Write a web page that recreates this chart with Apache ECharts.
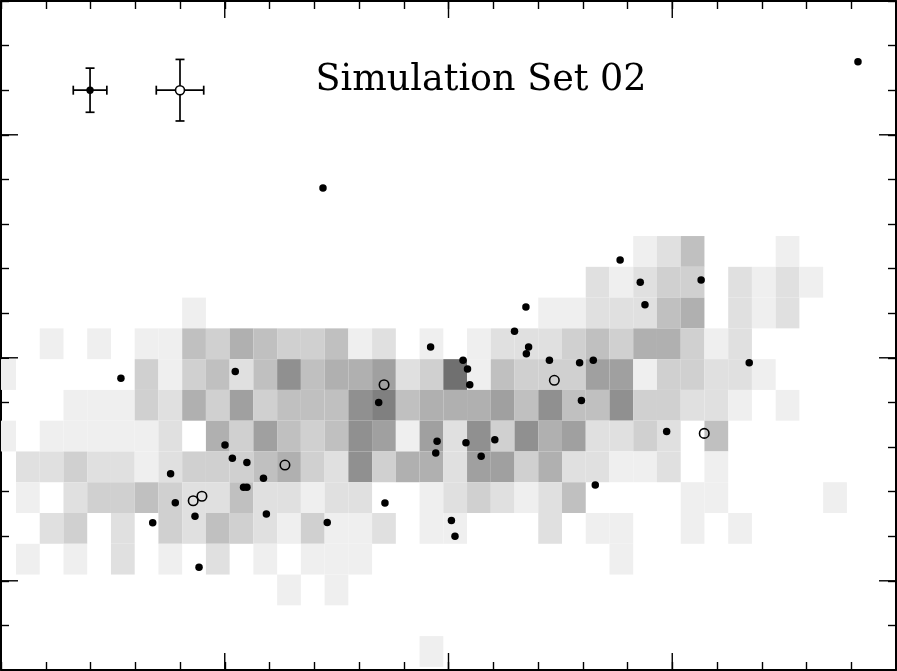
<!DOCTYPE html>
<html><head><meta charset="utf-8">
<script src="https://cdn.jsdelivr.net/npm/echarts@6/dist/echarts.min.js"></script>
<style>html,body{margin:0;padding:0;background:#fff}#c{width:897px;height:671px}#err{position:absolute;left:300px;top:600px;color:red;font:12px sans-serif}</style>
</head><body><div id="c"></div><div id="err"></div>
<script>
window.onerror = function (m) { document.getElementById('err').textContent += ' ' + m; };
// ---------------- DATA ----------------
const titleText = 'Simulation Set 02';
const xMajorTicks = [1, 2, 3];
const yMajorTicks = [0.4, 1.4, 2.4];

// density map: one array per row (top row first), columns from -1 to 34; value = grey level (0 = empty)
const densityRows = [
  [0,0,0,0,0,0,0,0,0,0, 0,0,0,0,0,0,0,0,0,0, 0,0,0,0,0,0,0,1,2,4, 0,0,0,1,0,0],
  [0,0,0,0,0,0,0,0,0,0, 0,0,0,0,0,0,0,0,0,0, 0,0,0,0,0,2,1,2,3,3, 0,2,1,2,1,0],
  [0,0,0,0,0,0,0,0,1,0, 0,0,0,0,0,0,0,0,0,0, 0,0,0,1,1,2,2,2,4,5, 0,2,1,2,0,0],
  [0,0,1,0,1,0,1,1,4,3, 5,4,3,3,4,1,2,0,1,0, 1,2,2,2,3,4,3,5,5,3, 1,2,0,0,0,0],
  [1,0,0,0,0,0,3,1,3,4, 2,4,7,4,5,5,6,2,3,9, 1,4,3,3,3,6,6,1,3,3, 2,2,1,0,0,0],
  [0,0,0,1,1,1,3,2,5,3, 6,3,4,4,4,7,8,4,5,5, 5,6,4,7,4,4,7,3,3,2, 2,1,0,1,0,0],
  [1,0,1,1,1,1,1,2,0,5, 3,6,4,3,4,7,6,1,6,2, 7,3,7,5,6,2,2,3,2,0, 4,0,0,0,0,0],
  [0,2,2,3,2,2,1,2,3,3, 3,4,5,3,2,7,3,5,5,2, 6,6,3,5,2,2,1,1,2,0, 1,0,0,0,0,0],
  [0,1,0,2,3,3,4,3,2,2, 4,2,2,1,2,2,0,0,1,2, 3,2,1,2,4,0,0,0,0,1, 1,0,0,0,0,1],
  [0,0,2,3,0,2,0,3,2,4, 3,2,1,3,1,1,2,0,1,1, 0,0,0,2,0,1,1,0,0,1, 0,1,0,0,0,0],
  [0,1,0,1,0,2,0,1,0,2, 0,1,0,1,1,1,0,0,0,0, 0,0,0,0,0,0,1,0,0,0, 0,0,0,0,0,0],
  [0,0,0,0,0,0,0,0,0,0, 0,0,1,0,1,0,0,0,0,0, 0,0,0,0,0,0,0,0,0,0, 0,0,0,0,0,0],
  [0,0,0,0,0,0,0,0,0,0, 0,0,0,0,0,0,0,0,0,0, 0,0,0,0,0,0,0,0,0,0, 0,0,0,0,0,0],
  [0,0,0,0,0,0,0,0,0,0, 0,0,0,0,0,0,0,0,1,0, 0,0,0,0,0,0,0,0,0,0, 0,0,0,0,0,0]
];
// binning of the density map (data units)
const binX0 = 0.067;      // left edge of column 0
const binW = 0.1061;
const binTop = 1.946;     // top edge of first row
const binH = 0.138;

// filled points
const dotX = [3.830,1.439,2.767,2.857,3.129,2.878,2.346,2.295,1.920,2.358,2.348,2.065,2.085,2.095,2.451,2.586,2.647,2.594,3.344,2.975,
              0.536,1.047,1.688,1.949,1.943,2.078,2.207,2.146,2.656,2.013,2.029,1.001,1.034,1.099,1.173,1.084,1.099,1.186,1.458,1.716,
              0.758,0.779,0.867,0.678,0.885];
const dotY = [2.728,2.161,1.839,1.739,1.749,1.638,1.628,1.519,1.448,1.448,1.418,1.389,1.350,1.279,1.389,1.378,1.389,1.209,1.378,1.069,
              1.308,1.339,1.199,1.026,0.973,1.019,1.033,0.959,0.830,0.670,0.600,1.009,0.949,0.930,0.860,0.820,0.820,0.700,0.661,0.749,
              0.880,0.750,0.689,0.660,0.461];
// open points
const openX = [1.712,2.473,3.143,1.269,0.859,0.898];
const openY = [1.279,1.299,1.061,0.919,0.759,0.779];
// error-bar keys: [x, y, xerr, yerr], first filled, second open
const keyX = [0.398, 0.800];
const keyY = [2.600, 2.600];
const keyXErr = [0.075, 0.106];
const keyYErr = [0.099, 0.138];

// ---------------- STYLE ----------------
const greys = ['#ffffff','#efefef','#e0e0e0','#d0d0d0','#c0c0c0','#b0b0b0','#a0a0a0','#909090','#808080','#707070'];
const X_MIN = 0, X_MAX = 4, Y_MIN = 0, Y_MAX = 3;

const cellData = [];
densityRows.forEach((row, r) => row.forEach((lvl, i) => { if (lvl > 0) cellData.push([i - 1, r, lvl]); }));

const chart = echarts.init(document.getElementById('c'), null, {renderer: 'canvas'});

function baseAxis(pos, min, max) {
  return {
    type: 'value', position: pos, min: min, max: max, interval: 0.2,
    axisLine: {show: true, onZero: false, lineStyle: {color: '#000', width: 2}},
    axisTick: {show: true, inside: true, length: 8, lineStyle: {color: '#000', width: 1.4}},
    axisLabel: {show: false}, splitLine: {show: false}
  };
}

const titleGraphic = {
  id: 'title', type: 'text', x: 481, y: 80.5, z: 100,
  style: {text: titleText, font: '36.5px "DejaVu Serif"', fill: '#000', stroke: '#fff', lineWidth: 1.6,
          textAlign: 'center', textVerticalAlign: 'middle', verticalAlign: 'middle'}
};

const option = {
  animation: false,
  backgroundColor: '#fff',
  grid: {left: 1, top: 1, width: 895, height: 669, containLabel: false},
  xAxis: [baseAxis('bottom', X_MIN, X_MAX), baseAxis('top', X_MIN, X_MAX)],
  yAxis: [baseAxis('left', Y_MIN, Y_MAX), baseAxis('right', Y_MIN, Y_MAX)],
  graphic: [titleGraphic],
  series: [
    {
      type: 'custom', name: 'density', xAxisIndex: 0, yAxisIndex: 0, z: 1,
      data: cellData,
      renderItem: function (params, api) {
        const c = api.value(0), r = api.value(1), lvl = api.value(2);
        const x0 = binX0 + c * binW, yT = binTop - r * binH;
        const p0 = api.coord([x0, yT]), p1 = api.coord([x0 + binW, yT - binH]);
        const cs = params.coordSys;
        const rect = echarts.graphic.clipRectByRect(
          {x: p0[0], y: p0[1], width: p1[0] - p0[0], height: p1[1] - p0[1]},
          {x: cs.x, y: cs.y, width: cs.width, height: cs.height});
        if (!rect) return;
        return {type: 'rect', shape: rect, style: {fill: greys[lvl]}};
      }
    },
    {
      type: 'scatter', name: 'filled', xAxisIndex: 0, yAxisIndex: 0, z: 3,
      symbol: 'circle', symbolSize: 7.5,
      itemStyle: {color: '#000', opacity: 1},
      data: dotX.map((x, i) => [x, dotY[i]])
    },
    {
      type: 'scatter', name: 'open', xAxisIndex: 0, yAxisIndex: 0, z: 3,
      symbol: 'circle', symbolSize: 9.5,
      itemStyle: {color: 'rgba(0,0,0,0)', borderColor: '#000', borderWidth: 1.6, opacity: 1},
      data: openX.map((x, i) => [x, openY[i]])
    },
    {
      type: 'custom', name: 'keys', xAxisIndex: 0, yAxisIndex: 0, z: 4,
      data: keyX.map((x, i) => [x, keyY[i], keyXErr[i], keyYErr[i], i]),
      renderItem: function (params, api) {
        const x = api.value(0), y = api.value(1), ex = api.value(2), ey = api.value(3), kind = api.value(4);
        const c = api.coord([x, y]);
        const l = api.coord([x - ex, y]), r = api.coord([x + ex, y]);
        const t = api.coord([x, y + ey]), b = api.coord([x, y - ey]);
        const cap = 4.5;
        const ls = {stroke: '#000', lineWidth: 1.7};
        const kids = [
          {type: 'line', shape: {x1: l[0], y1: l[1], x2: r[0], y2: r[1]}, style: ls},
          {type: 'line', shape: {x1: t[0], y1: t[1], x2: b[0], y2: b[1]}, style: ls},
          {type: 'line', shape: {x1: l[0], y1: l[1] - cap, x2: l[0], y2: l[1] + cap}, style: ls},
          {type: 'line', shape: {x1: r[0], y1: r[1] - cap, x2: r[0], y2: r[1] + cap}, style: ls},
          {type: 'line', shape: {x1: t[0] - cap, y1: t[1], x2: t[0] + cap, y2: t[1]}, style: ls},
          {type: 'line', shape: {x1: b[0] - cap, y1: b[1], x2: b[0] + cap, y2: b[1]}, style: ls}
        ];
        if (kind === 0) {
          kids.push({type: 'circle', shape: {cx: c[0], cy: c[1], r: 3.7}, style: {fill: '#000'}});
        } else {
          kids.push({type: 'circle', shape: {cx: c[0], cy: c[1], r: 4.5}, style: {fill: '#fff', stroke: '#000', lineWidth: 1.6}});
        }
        return {type: 'group', children: kids};
      }
    }
  ]
};
chart.setOption(option);

// major (long) ticks, placed through the chart's own coordinate conversion
const L = 17;
const tickStyle = {stroke: '#000', lineWidth: 1.4};
const majors = [];
xMajorTicks.forEach((v, i) => {
  const b = chart.convertToPixel({gridIndex: 0}, [v, Y_MIN]);
  const t = chart.convertToPixel({gridIndex: 0}, [v, Y_MAX]);
  majors.push({id: 'xb' + i, type: 'line', z: 50, shape: {x1: b[0], y1: b[1], x2: b[0], y2: b[1] - L}, style: tickStyle});
  majors.push({id: 'xt' + i, type: 'line', z: 50, shape: {x1: t[0], y1: t[1], x2: t[0], y2: t[1] + L}, style: tickStyle});
});
yMajorTicks.forEach((v, i) => {
  const l = chart.convertToPixel({gridIndex: 0}, [X_MIN, v]);
  const r = chart.convertToPixel({gridIndex: 0}, [X_MAX, v]);
  majors.push({id: 'yl' + i, type: 'line', z: 50, shape: {x1: l[0], y1: l[1], x2: l[0] + L, y2: l[1]}, style: tickStyle});
  majors.push({id: 'yr' + i, type: 'line', z: 50, shape: {x1: r[0], y1: r[1], x2: r[0] - L, y2: r[1]}, style: tickStyle});
});
chart.setOption({graphic: [titleGraphic].concat(majors)});
</script></body></html>
